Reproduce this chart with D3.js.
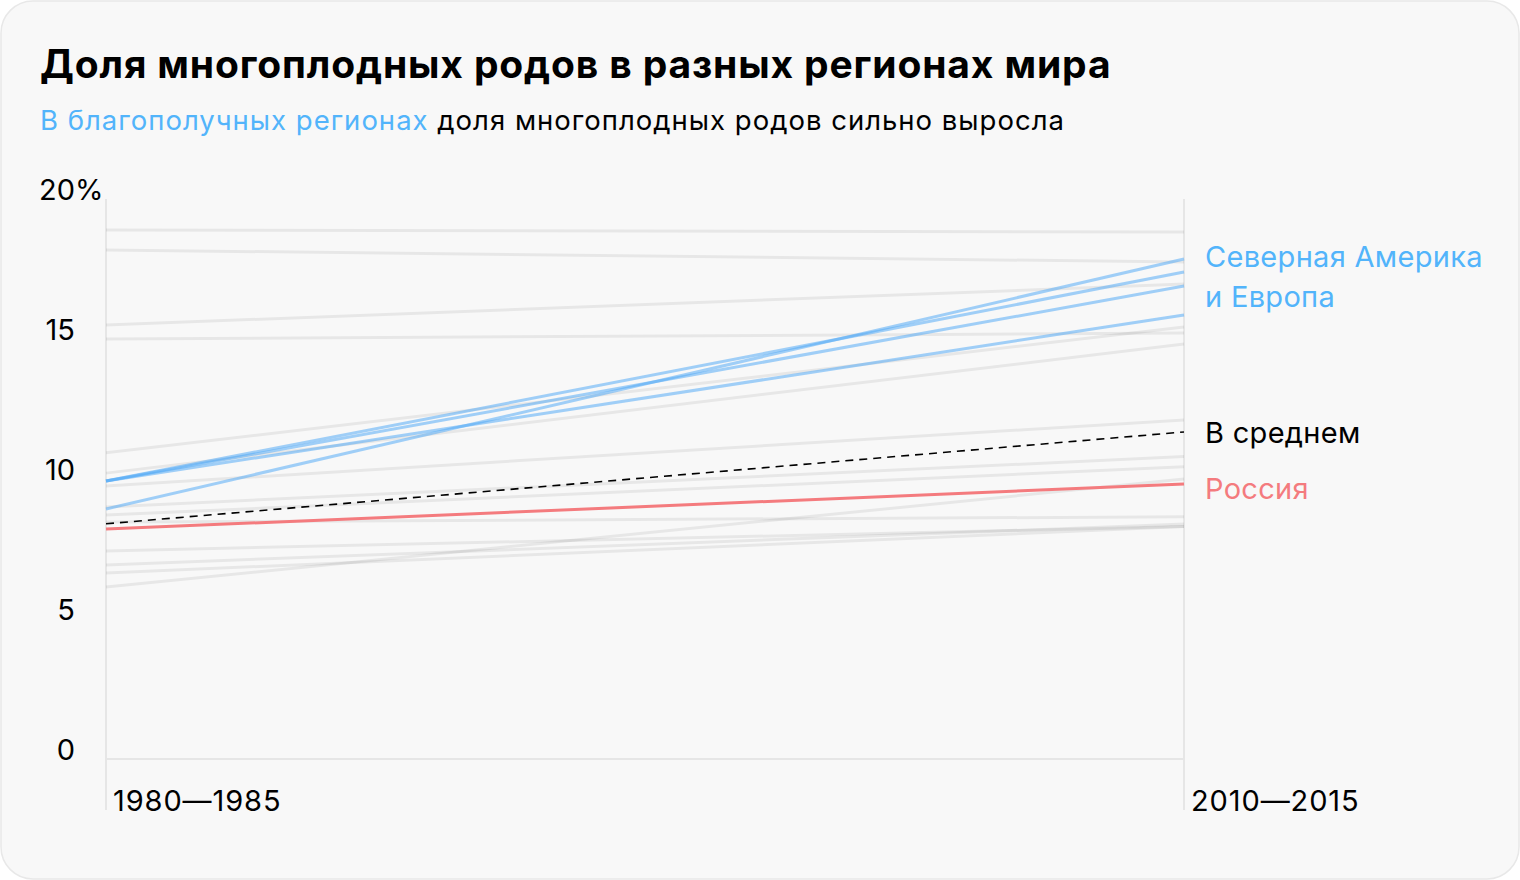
<!DOCTYPE html>
<html><head><meta charset="utf-8">
<script src="https://cdn.jsdelivr.net/npm/d3@7"></script>
<style>
html,body{margin:0;padding:0;background:#fff;}
svg{display:block;font-family:Inter, "Noto Sans", sans-serif;}
</style></head>
<body><svg id="c" width="1520" height="880"></svg>
<script>
const periods = ["1980—1985", "2010—2015"];
const yTicks = [0, 5, 10, 15, 20];
// other regions (grey)
const greyStart = [18.89, 18.18, 15.5, 15.0, 10.94, 10.21, 9.75, 9.0, 8.71, 8.46, 7.43, 6.93, 6.64, 6.14];
const greyEnd   = [18.82, 17.75, 16.96, 15.21, 15.43, 14.82, 12.11, 10.8, 10.44, 8.65, 8.3, 8.39, 8.3, 10.0];
// North America & Europe (blue)
const blueStart = [9.93, 9.93, 9.93, 8.93];
const blueEnd   = [17.39, 16.89, 15.86, 17.86];
const averageVals = [8.4, 11.68];
const russiaVals = [8.21, 9.82];

const svg = d3.select("#c");
svg.append("rect").attr("x",1).attr("y",1).attr("width",1518).attr("height",878)
  .attr("rx",32).attr("fill","#f8f8f8").attr("stroke","#e8e8e8").attr("stroke-width",1.5);

svg.append("text").attr("x",40).attr("y",78).attr("font-size",39).attr("font-weight",700)
  .attr("letter-spacing",0.85).attr("fill","#000").text("Доля многоплодных родов в разных регионах мира");
const sub = svg.append("text").attr("x",40).attr("y",130).attr("font-size",27.5)
  .attr("letter-spacing",1.0).attr("fill","#000");
sub.append("tspan").attr("fill","#52b4fb").text("В благополучных регионах");
sub.append("tspan").text(" доля многоплодных родов сильно выросла");

const x = d3.scalePoint().domain(periods).range([106, 1184]);
const y = d3.scaleLinear().domain([0, 20]).range([759, 199]);

const axisColor = "#e6e6e6";
periods.forEach(p => {
  svg.append("line").attr("x1",x(p)).attr("x2",x(p)).attr("y1",y(20)).attr("y2",810)
    .attr("stroke",axisColor).attr("stroke-width",2);
});
svg.append("line").attr("x1",x(periods[0])).attr("x2",x(periods[1])).attr("y1",y(0)).attr("y2",y(0))
  .attr("stroke",axisColor).attr("stroke-width",2);

// y tick labels
const yt = svg.append("g");
yTicks.forEach(t => {
  yt.append("text").attr("x",75).attr("y",y(t)+1).attr("text-anchor","end")
    .attr("font-size",29).attr("fill","#000").text(t);
  if (t === 20) yt.append("text").attr("x",75).attr("y",y(t)+1).attr("font-size",29).attr("fill","#000").text("%");
});

// x labels
periods.forEach(p => {
  svg.append("text").attr("x",x(p)+7).attr("y",811).attr("font-size",29)
    .attr("letter-spacing",0.9).attr("fill","#000").text(p);
});

const line = d3.line().x(d => x(d[0])).y(d => y(d[1]));
const pair = (a,b) => [[periods[0],a],[periods[1],b]];

const g = svg.append("g");
greyStart.forEach((v,i) => {
  g.append("path").attr("d", line(pair(v, greyEnd[i]))).attr("fill","none")
    .attr("stroke","#000").attr("stroke-opacity",0.065).attr("stroke-width",3);
});
blueStart.forEach((v,i) => {
  g.append("path").attr("d", line(pair(v, blueEnd[i]))).attr("fill","none")
    .attr("stroke","#55acf5").attr("stroke-opacity",0.55).attr("stroke-width",3);
});
g.append("path").attr("d", line(pair(russiaVals[0], russiaVals[1]))).attr("fill","none")
  .attr("stroke","#f47b7e").attr("stroke-width",3);
g.append("path").attr("d", line(pair(averageVals[0], averageVals[1]))).attr("fill","none")
  .attr("stroke","#000").attr("stroke-width",1.6).attr("stroke-dasharray","8,6");

// right labels
const lx = 1205;
const lab = (t, yy, c) => svg.append("text").attr("x",lx).attr("y",yy).attr("font-size",29)
  .attr("letter-spacing",0.3).attr("fill",c).text(t);
lab("Северная Америка", 267, "#52b4fb");
lab("и Европа", 307, "#52b4fb");
lab("В среднем", 443, "#000");
lab("Россия", 499, "#f47b7e");
</script></body></html>
